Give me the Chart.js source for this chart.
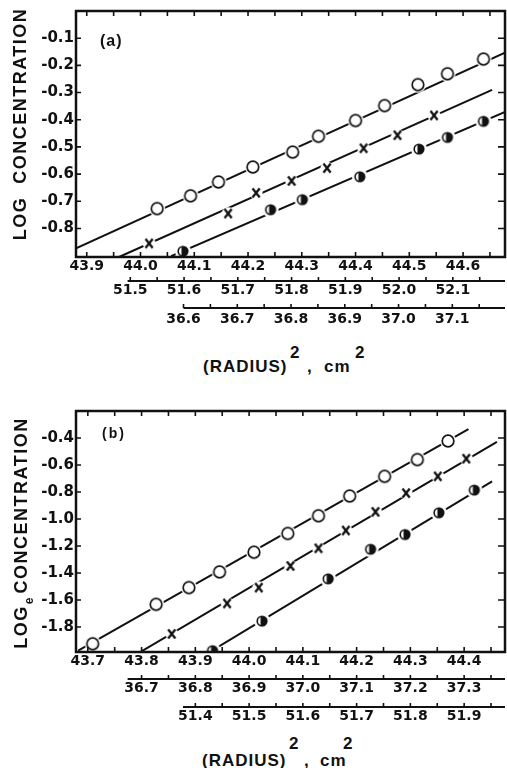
<!DOCTYPE html>
<html>
<head>
<meta charset="utf-8">
<script src="https://cdn.jsdelivr.net/npm/chart.js@4.4.1/dist/chart.umd.min.js"></script>
<style>
  html, body { margin: 0; padding: 0; background: #fff; overflow: hidden; width: 507px; height: 768px; }
  canvas { position: absolute; left: 0; }
  .t { position: absolute; font-family: 'Liberation Sans', Arial, sans-serif; font-weight: bold; color: #111; white-space: nowrap; line-height: 1; }
  .yt { font-size: 18px; letter-spacing: 1.5px; transform: translate(-50%, -50%) rotate(-90deg); }
  .yt .sub { font-size: 12px; position: relative; top: 6px; letter-spacing: 0; margin: 0 4px 0 1px; }
  .xt { font-size: 17px; letter-spacing: 1px; }
</style>
</head>
<body>
<canvas id="chartA" width="512" height="330" style="top:0px"></canvas>
<canvas id="chartB" width="512" height="330" style="top:400px"></canvas>

<div class="t yt" style="left:20px;top:124px">LOG&nbsp;&nbsp;CONCENTRATION</div>
<div class="t" style="left:100px;top:33px;font-size:16px;letter-spacing:1px">(a)</div>
<div class="t xt" style="left:203px;top:358px">(RADIUS)</div>
<div class="t xt" style="left:290px;top:344px">2</div>
<div class="t xt" style="left:307px;top:358px">,</div>
<div class="t xt" style="left:324px;top:358px">cm</div>
<div class="t xt" style="left:355px;top:344px">2</div>

<div class="t yt" style="left:21px;top:533px">LOG<span class="sub">e</span>CONCENTRATION</div>
<div class="t" style="left:102px;top:426px;font-size:14px;letter-spacing:2px">(b)</div>
<div class="t xt" style="left:202px;top:752px">(RADIUS)</div>
<div class="t xt" style="left:289px;top:735px">2</div>
<div class="t xt" style="left:304px;top:752px">,</div>
<div class="t xt" style="left:320px;top:752px">cm</div>
<div class="t xt" style="left:343px;top:735px">2</div>

<script>
// ---- panel (a) ----
const openAx = [44.031, 44.093, 44.145, 44.209, 44.283, 44.331, 44.400, 44.454, 44.516, 44.571, 44.638];
const openAy = [-0.727, -0.680, -0.629, -0.574, -0.519, -0.461, -0.403, -0.348, -0.271, -0.231, -0.177];
const crossAx = [44.016, 44.163, 44.215, 44.281, 44.347, 44.415, 44.478, 44.546];
const crossAy = [-0.855, -0.745, -0.669, -0.625, -0.578, -0.505, -0.457, -0.384];
const halfAx = [44.079, 44.242, 44.301, 44.408, 44.518, 44.571, 44.638];
const halfAy = [-0.884, -0.731, -0.694, -0.610, -0.508, -0.465, -0.406];
// fitted lines (end points)
const fitOpenA = [[43.880, -0.873], [44.678, -0.153]];
const fitCrossA = [[43.959, -0.906], [44.654, -0.290]];
const fitHalfA = [[44.057, -0.902], [44.678, -0.371]];
// axis ticks
const xTicksA = [43.9, 44.0, 44.1, 44.2, 44.3, 44.4, 44.5, 44.6];
const x2TicksA = [51.5, 51.6, 51.7, 51.8, 51.9, 52.0, 52.1];
const x3TicksA = [36.6, 36.7, 36.8, 36.9, 37.0, 37.1];
const yTicksA = [-0.8, -0.7, -0.6, -0.5, -0.4, -0.3, -0.2, -0.1];

// ---- panel (b) ----
const openBx = [43.709, 43.827, 43.888, 43.945, 44.009, 44.072, 44.129, 44.187, 44.252, 44.313, 44.370];
const openBy = [-1.924, -1.632, -1.508, -1.392, -1.246, -1.107, -0.976, -0.830, -0.684, -0.560, -0.422];
const crossBx = [43.856, 43.959, 44.018, 44.077, 44.129, 44.180, 44.235, 44.292, 44.351, 44.404];
const crossBy = [-1.851, -1.625, -1.508, -1.348, -1.217, -1.085, -0.947, -0.808, -0.684, -0.553];
const halfBx = [43.932, 44.024, 44.147, 44.226, 44.290, 44.353, 44.419];
const halfBy = [-1.975, -1.756, -1.443, -1.224, -1.115, -0.954, -0.786];
const fitOpenB = [[43.682, -1.975], [44.408, -0.334]];
const fitCrossB = [[43.799, -1.982], [44.461, -0.429]];
const fitHalfB = [[43.928, -1.982], [44.452, -0.721]];
const xTicksB = [43.7, 43.8, 43.9, 44.0, 44.1, 44.2, 44.3, 44.4];
const x2TicksB = [36.7, 36.8, 36.9, 37.0, 37.1, 37.2, 37.3];
const x3TicksB = [51.4, 51.5, 51.6, 51.7, 51.8, 51.9];
const yTicksB = [-1.8, -1.6, -1.4, -1.2, -1.0, -0.8, -0.6, -0.4];

Chart.defaults.font.family = "'DejaVu Sans', sans-serif";
Chart.defaults.font.size = 14;
Chart.defaults.font.weight = 'bold';
Chart.defaults.color = '#111';

function makeMarker(kind) {
  const c = document.createElement('canvas');
  c.width = 18; c.height = 18;
  const g = c.getContext('2d');
  g.translate(9, 9);
  g.fillStyle = '#fff';
  g.beginPath(); g.arc(0, 0, kind === 'cross' ? 6.5 : 8, 0, Math.PI * 2); g.fill();
  g.strokeStyle = '#111'; g.fillStyle = '#111';
  if (kind === 'open') {
    g.lineWidth = 1.7;
    g.beginPath(); g.arc(0, 0, 5.8, 0, Math.PI * 2); g.stroke();
  } else if (kind === 'half') {
    g.beginPath(); g.arc(0, 0, 5.6, 0, Math.PI * 2); g.fill();
    g.save();
    g.beginPath(); g.arc(0, 0, 4, 0, Math.PI * 2); g.clip();
    g.fillStyle = '#fff'; g.fillRect(-4.5, -4.5, 3, 9);
    g.restore();
  } else {
    g.lineWidth = 2.3;
    g.beginPath();
    g.moveTo(-3.6, -4.5); g.lineTo(3.6, 4.5);
    g.moveTo(3.6, -4.5); g.lineTo(-3.6, 4.5);
    g.stroke();
  }
  return c;
}
const mOpen = makeMarker('open'), mCross = makeMarker('cross'), mHalf = makeMarker('half');

function pts(xs, ys) { return xs.map((x, i) => ({ x: x, y: ys[i] })); }
function fitSet(p) {
  return { type: 'line', data: p.map(q => ({ x: q[0], y: q[1] })), borderColor: '#111', borderWidth: 2, pointRadius: 0, order: 3 };
}
function markSet(xs, ys, img) {
  return { type: 'scatter', data: pts(xs, ys), pointStyle: img, pointRadius: 6, order: 1 };
}
function isMajor(majors, v) { return majors.some(m => Math.abs(m - v) < 1e-6); }
function withMinor(majors, min, max) {
  let out = [];
  majors.forEach(m => { out.push(m); out.push(+(m + 0.05).toFixed(2)); });
  return out.filter(v => v >= min - 1e-9 && v <= max + 1e-9);
}
function xScale(min, max, majors, weight, pad, h) {
  return {
    type: 'linear', position: 'bottom', min: min, max: max, weight: weight,
    grid: { display: false, drawTicks: false }, border: { display: false },
    ticks: { autoSkip: false, maxRotation: 0, minRotation: 0, padding: pad,
      callback: v => isMajor(majors, v) ? v.toFixed(1) : '' },
    afterBuildTicks: s => { s.ticks = withMinor(majors, min, max).map(v => ({ value: v })); },
    afterFit: s => { s.height = h; }
  };
}
function yScale(min, max, majors) {
  return {
    type: 'linear', position: 'left', min: min, max: max,
    grid: { display: false, drawTicks: false }, border: { display: false },
    ticks: { padding: 2, font: { size: 15 }, callback: v => v.toFixed(1) },
    afterBuildTicks: s => { s.ticks = majors.map(v => ({ value: v })); },
    afterFit: s => { s.width = 76; }
  };
}

// frame, inward ticks and the shorter secondary axis lines
const frame = {
  id: 'frame',
  afterDraw(chart, args, opts) {
    const { ctx, chartArea: a, scales } = chart;
    ctx.save();
    ctx.strokeStyle = '#111';
    ctx.lineWidth = 2.5;
    ctx.strokeRect(a.left, a.top, a.right - a.left, a.bottom - a.top);
    ctx.lineWidth = 1.6;
    ctx.beginPath();
    scales.x.ticks.forEach(t => {
      const p = scales.x.getPixelForValue(t.value);
      ctx.moveTo(p, a.bottom); ctx.lineTo(p, a.bottom - 5);
      ctx.moveTo(p, a.top); ctx.lineTo(p, a.top + 5);
    });
    scales.y.ticks.forEach(t => {
      const p = scales.y.getPixelForValue(t.value);
      ctx.moveTo(a.left, p); ctx.lineTo(a.left + 5, p);
      ctx.moveTo(a.right, p); ctx.lineTo(a.right - 7, p);
    });
    ctx.stroke();
    opts.sub.forEach(([id, from]) => {
      const s = scales[id];
      const y = s.top;
      ctx.lineWidth = 2;
      ctx.beginPath(); ctx.moveTo(s.getPixelForValue(from), y); ctx.lineTo(a.right, y); ctx.stroke();
      ctx.lineWidth = 1.6;
      ctx.beginPath();
      s.ticks.forEach(t => {
        const p = s.getPixelForValue(t.value);
        ctx.moveTo(p, y); ctx.lineTo(p, y - 4);
      });
      ctx.stroke();
    });
    ctx.restore();
  }
};

new Chart(document.getElementById('chartA'), {
  type: 'scatter',
  data: { datasets: [
    fitSet(fitOpenA), fitSet(fitCrossA), fitSet(fitHalfA),
    markSet(openAx, openAy, mOpen), markSet(crossAx, crossAy, mCross), markSet(halfAx, halfAy, mHalf)
  ] },
  options: {
    responsive: false, animation: false,
    layout: { padding: { left: 0, right: 2, top: 9, bottom: 0 } },
    plugins: { legend: { display: false }, tooltip: { enabled: false },
      frame: { sub: [['x2', 51.495], ['x3', 36.6]] } },
    scales: {
      x: xScale(43.88, 44.678, xTicksA, 0, 1, 24),
      x2: xScale(51.399, 52.197, x2TicksA, 1, 1, 27),
      x3: xScale(36.40, 37.198, x3TicksA, 2, 3, 22),
      y: yScale(-0.905, 0.0, yTicksA)
    }
  },
  plugins: [frame]
});

new Chart(document.getElementById('chartB'), {
  type: 'scatter',
  data: { datasets: [
    fitSet(fitOpenB), fitSet(fitCrossB), fitSet(fitHalfB),
    markSet(openBx, openBy, mOpen), markSet(crossBx, crossBy, mCross), markSet(halfBx, halfBy, mHalf)
  ] },
  options: {
    responsive: false, animation: false,
    layout: { padding: { left: 0, right: 2, top: 7, bottom: 0 } },
    plugins: { legend: { display: false }, tooltip: { enabled: false },
      frame: { sub: [['x2', 36.674], ['x3', 51.377]] } },
    scales: {
      x: xScale(43.678, 44.476, xTicksB, 0, 1, 27),
      x2: xScale(36.578, 37.376, x2TicksB, 1, 1, 28),
      x3: xScale(51.178, 51.976, x3TicksB, 2, 1, 23),
      y: yScale(-1.985, -0.2, yTicksB)
    }
  },
  plugins: [frame]
});
</script>
</body>
</html>
